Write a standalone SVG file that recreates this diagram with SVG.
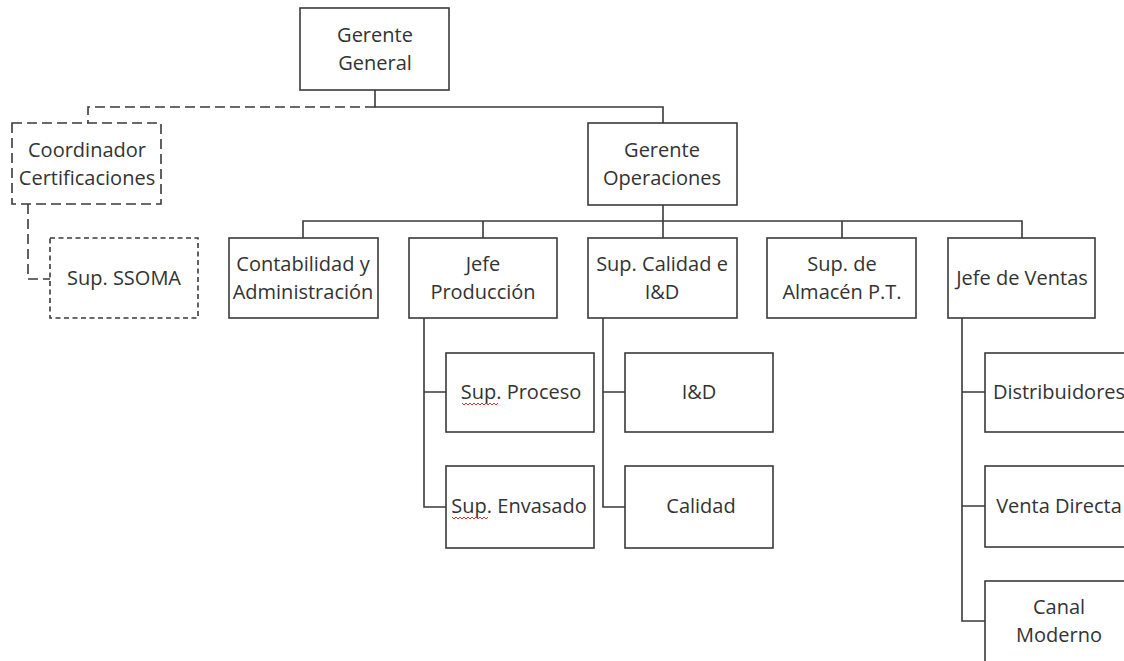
<svg xmlns="http://www.w3.org/2000/svg" width="1124" height="661" viewBox="0 0 1124 661">
<style>
.box{fill:#fff;stroke:#3a3a3a;stroke-width:1.6}
.dbox{fill:#fff;stroke:#3a3a3a;stroke-width:1.6;stroke-dasharray:10 5}
.sbox{fill:#fff;stroke:#3a3a3a;stroke-width:1.6;stroke-dasharray:5 3.5}
.ln{fill:none;stroke:#3a3a3a;stroke-width:1.6}
.dl{fill:none;stroke:#3a3a3a;stroke-width:1.6;stroke-dasharray:10 5}
text{font-family:"Open Sans","Noto Sans",sans-serif;font-size:20px;fill:#333;text-anchor:middle}
.wavy{fill:none;stroke:#e03030;stroke-width:1}
</style>
<rect width="1124" height="661" fill="#fff"/>
<g id="connectors">
<path class="ln" d="M375 90 V107 H663 V123"/>
<path class="dl" d="M375 107 H88 V123"/>
<path class="dl" d="M28 204 V279 H50"/>
<path class="ln" d="M663 205 V221"/>
<path class="ln" d="M303 238 V221 H1022 V238 M483 221 V238 M663 221 V238 M842 221 V238"/>
<path class="ln" d="M424 318 V507 H446 M424 392 H446"/>
<path class="ln" d="M603 318 V507 H625 M603 392 H625"/>
<path class="ln" d="M962 318 V621 H985 M962 392 H985 M962 506 H985"/>
</g>
<g id="gerente-general"><rect class="box" x="300" y="8" width="149" height="82"/><text x="375" y="42">Gerente</text><text x="375" y="70">General</text></g>
<g id="coordinador"><rect class="dbox" x="12" y="123" width="149" height="81"/><text x="87" y="157">Coordinador</text><text x="87" y="185">Certificaciones</text></g>
<g id="ssoma"><rect class="sbox" x="50" y="238" width="148" height="80"/><text x="124" y="285">Sup. SSOMA</text></g>
<g id="gerente-operaciones"><rect class="box" x="588" y="123" width="149" height="82"/><text x="662" y="157">Gerente</text><text x="662" y="185">Operaciones</text></g>
<g id="contabilidad"><rect class="box" x="229" y="238" width="149" height="80"/><text x="303" y="271">Contabilidad y</text><text x="303" y="299">Administración</text></g>
<g id="jefe-produccion"><rect class="box" x="409" y="238" width="148" height="80"/><text x="483" y="271">Jefe</text><text x="483" y="299">Producción</text></g>
<g id="sup-calidad"><rect class="box" x="588" y="238" width="149" height="80"/><text x="662" y="271">Sup. Calidad e</text><text x="662" y="299">I&amp;D</text></g>
<g id="sup-almacen"><rect class="box" x="767" y="238" width="149" height="80"/><text x="842" y="271">Sup. de</text><text x="842" y="299">Almacén P.T.</text></g>
<g id="jefe-ventas"><rect class="box" x="948" y="238" width="147" height="80"/><text x="1022" y="285">Jefe de Ventas</text></g>
<g id="sup-proceso"><rect class="box" x="446" y="353" width="148" height="79"/><text x="521" y="399">Sup. Proceso</text><path class="wavy" d="M462 403 l2 2 l2 -2 l2 2 l2 -2 l2 2 l2 -2 l2 2 l2 -2 l2 2 l2 -2 l2 2 l2 -2 l2 2 l2 -2 l2 2 l2 -2 l2 2 l2 -2"/></g>
<g id="sup-envasado"><rect class="box" x="446" y="466" width="148" height="82"/><text x="519" y="513">Sup. Envasado</text><path class="wavy" d="M452 517 l2 2 l2 -2 l2 2 l2 -2 l2 2 l2 -2 l2 2 l2 -2 l2 2 l2 -2 l2 2 l2 -2 l2 2 l2 -2 l2 2 l2 -2 l2 2 l2 -2"/></g>
<g id="iyd"><rect class="box" x="625" y="353" width="148" height="79"/><text x="699" y="399">I&amp;D</text></g>
<g id="calidad"><rect class="box" x="625" y="466" width="148" height="82"/><text x="701" y="513">Calidad</text></g>
<g id="distribuidores"><rect class="box" x="985" y="353" width="149" height="79"/><text x="1059" y="399">Distribuidores</text></g>
<g id="venta-directa"><rect class="box" x="985" y="466" width="149" height="81"/><text x="1059" y="513">Venta Directa</text></g>
<g id="canal-moderno"><rect class="box" x="985" y="581" width="149" height="82"/><text x="1059" y="614">Canal</text><text x="1059" y="642">Moderno</text></g>
</svg>
